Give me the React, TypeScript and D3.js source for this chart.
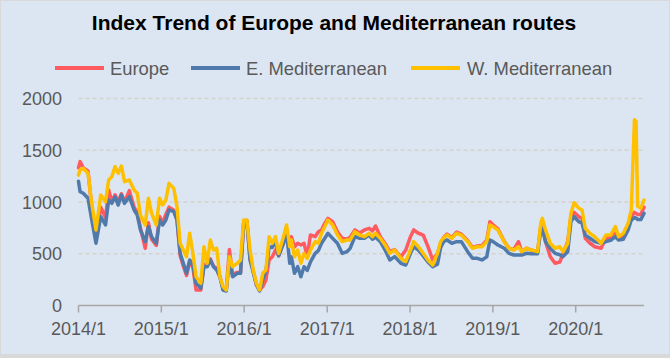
import React from "react";
import * as d3 from "d3";

// weeks since 2014-01-01
const weeks = [0,1,3,6,8,11,14,17,19,21,23,25,27,29,32,35,37,39,42,44,46,49,51,53,55,57,60,62,64,66,68,70,72,74,77,79,81,83,85,87,89,91,93,95,97,100,102,104,106,108,110,112,114,116,118,120,122,124,126,129,131,133,134,136,138,140,142,144,146,149,151,153,155,157,160,163,166,169,171,174,177,180,183,185,187,190,193,196,199,203,206,209,211,214,217,220,223,226,228,230,232,235,238,241,245,248,251,254,257,259,261,264,268,271,274,277,279,282,285,289,291,292,294,297,300,303,305,308,310,312,315,317,319,322,325,329,332,335,338,340,343,346,348,350,351,352,354,356];

const europe = [1330,1390,1330,1300,1000,650,950,850,1116,1000,1070,1000,1080,1000,1110,950,900,750,553,800,640,580,860,800,880,950,920,830,480,380,290,420,370,150,150,400,380,450,380,360,280,160,150,540,300,320,320,800,820,450,330,200,150,182,246,440,470,536,480,600,700,600,665,568,601,585,601,470,681,665,713,730,794,842,810,713,650,640,660,730,700,730,746,720,768,665,600,520,540,470,536,665,730,698,681,568,440,504,600,660,690,655,710,690,625,560,575,580,630,810,780,740,620,553,540,617,520,553,536,520,760,800,617,471,408,420,500,620,860,900,858,840,650,601,568,553,650,660,720,650,660,760,860,900,890,880,880,950];

const eMed = [1200,1100,1084,1036,858,601,858,778,1019,987,1051,971,1068,987,1051,923,874,730,617,762,665,601,826,778,826,923,906,826,504,408,311,440,391,214,166,375,375,440,375,343,278,150,140,440,278,311,311,793,810,440,320,200,140,250,330,568,560,620,480,600,700,408,470,311,375,278,375,340,420,504,530,601,649,698,649,601,504,520,552,665,650,649,680,640,660,617,536,440,472,408,391,504,568,536,480,420,375,400,560,620,633,601,617,617,520,456,456,440,470,633,617,585,553,504,488,488,488,504,500,500,730,740,617,550,504,490,472,520,810,858,810,794,680,650,617,600,617,630,665,633,640,730,826,850,845,830,830,890];

const wMed = [1260,1310,1325,1277,1019,730,1068,1003,1213,1245,1341,1277,1348,1196,1213,1116,1084,874,778,1036,891,778,1036,971,1019,1180,1132,955,601,536,471,698,504,278,214,568,408,633,536,553,278,182,150,471,375,408,440,826,826,536,343,214,150,311,343,665,601,665,504,665,778,568,633,471,536,408,504,456,536,617,601,698,762,826,778,681,617,633,633,713,681,665,698,665,698,649,585,504,536,456,424,536,617,568,504,440,391,504,620,655,681,649,698,681,617,553,568,568,617,778,762,730,617,553,536,568,520,553,536,520,794,842,730,601,553,568,520,601,891,993,939,923,746,697,665,601,681,681,762,665,697,794,923,1795,1780,960,939,1019];

const seriesNames = ["Europe", "E. Mediterranean", "W. Mediterranean"];
const seriesColors = ["#ff5a5f", "#4f7aab", "#ffc000"];
const yTicks = [0, 500, 1000, 1500, 2000];
const title = "Index Trend of Europe and Mediterranean routes";

const W = 670;
const H = 358;
const FONT = "'Liberation Sans', Arial, sans-serif";

export default function App() {
  const start = new Date(2014, 0, 1);
  const dates = weeks.map((w) => d3.timeDay.offset(start, w * 7));
  const x = d3.scaleTime().domain([start, new Date(2020, 9, 28)]).range([78.5, 644]);
  const y = d3.scaleLinear().domain([0, 2000]).range([305.5, 98.5]);
  const xTicks = d3.timeYear.range(start, new Date(2020, 11, 31));
  const fmt = d3.timeFormat("%Y/%-m");
  const line = d3
    .line<number>()
    .x((_, i) => x(dates[i]))
    .y((v) => y(v))
    .curve(d3.curveLinear);
  const data = [europe, eMed, wMed];
  const legendItems = [
    { lx: 55, tx: 110 },
    { lx: 191, tx: 246 },
    { lx: 411, tx: 467 },
  ];

  return (
    <svg
      width={W}
      height={H}
      style={{ position: "absolute", left: 0, top: 0 }}
      fontFamily={FONT}
    >
      <rect x={0} y={0} width={W} height={H} fill="#d9d9d9" />
      <rect x={1} y={1} width={W - 2} height={H - 5} fill="#dce6f2" />
      <text x={334} y={30} textAnchor="middle" fontSize={21} fontWeight="bold" fill="#000">
        {title}
      </text>
      {seriesNames.map((n, i) => (
        <g key={n}>
          <line
            x1={legendItems[i].lx}
            x2={legendItems[i].lx + 49}
            y1={68}
            y2={68}
            stroke={seriesColors[i]}
            strokeWidth={4}
          />
          <text x={legendItems[i].tx} y={74.5} fontSize={18.4} fill="#595959">
            {n}
          </text>
        </g>
      ))}
      {yTicks.map((t) => (
        <g key={t}>
          {t > 0 && (
            <line
              x1={78.5}
              x2={644}
              y1={y(t)}
              y2={y(t)}
              stroke="#d6d1c9"
              strokeWidth={1.3}
              strokeDasharray="4,3"
            />
          )}
          <text x={62} y={y(t) + 6.5} textAnchor="end" fontSize={18} fill="#595959">
            {t}
          </text>
        </g>
      ))}
      <line x1={78.5} x2={644} y1={y(0)} y2={y(0)} stroke="#a6a6a6" strokeWidth={1.5} />
      {xTicks.map((t) => (
        <g key={t.getTime()}>
          <line x1={x(t)} x2={x(t)} y1={y(0)} y2={y(0) + 7} stroke="#a6a6a6" strokeWidth={1.5} />
          <text x={x(t)} y={334.5} textAnchor="middle" fontSize={18} fill="#595959">
            {fmt(t)}
          </text>
        </g>
      ))}
      {data.map((s, i) => (
        <path
          key={seriesNames[i]}
          d={line(s) || ""}
          fill="none"
          stroke={seriesColors[i]}
          strokeWidth={3.5}
          strokeLinejoin="round"
          strokeLinecap="round"
        />
      ))}
    </svg>
  );
}
